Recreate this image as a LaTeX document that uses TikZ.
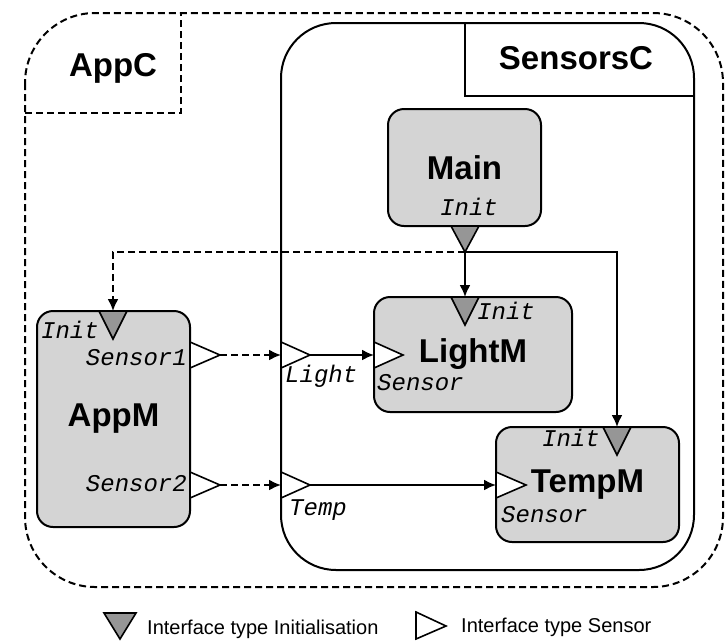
\documentclass[tikz,border=0pt]{standalone}
\usepackage{fontspec}
\setmainfont{Liberation Sans}
\newfontfamily\portfont{Liberation Mono}
\usetikzlibrary{arrows.meta}

\definecolor{modgray}{RGB}{212,212,212}
\definecolor{initgray}{RGB}{150,150,150}

\tikzset{
  module/.style={draw, fill=modgray, line width=2pt, rounded corners=16pt,
    inner sep=0pt, outer sep=0pt, font=\fontsize{33}{33}\selectfont\bfseries},
  config/.style={font=\fontsize{33}{33}\selectfont\bfseries},
  initport/.style={draw, fill=initgray, line width=1.6pt},
  sensorport/.style={draw, fill=white, line width=1.6pt},
  portlabel/.style={font=\fontsize{24}{24}\selectfont\portfont\itshape,
    inner sep=0pt, text height=1.5ex, text depth=.25ex},
  legendlabel/.style={anchor=west, inner sep=0pt, font=\fontsize{20}{20}\selectfont},
  wire/.style={line width=2pt},
  dashwire/.style={line width=2pt, dash pattern=on 7pt off 4pt},
}

\begin{document}
\begin{tikzpicture}[x=1pt, y=-1pt, >={Latex[length=12pt,width=11pt]}]
\useasboundingbox (0,0) rectangle (725,641);

% configurations
\draw[dashwire, rounded corners=70pt] (25,13) rectangle (723,587);
\draw[dashwire] (25,113) -| (181,13);
\node[config] (appc) at (113,68) {AppC};

\draw[wire, rounded corners=55pt] (281,23) rectangle (694,570);
\draw[wire] (465,23) |- (694,96);
\node[config] (sensorsc) at (576,58) {SensorsC};

% modules
\node[module, minimum width=153pt, minimum height=117pt] (main)   at (464.5,167.5) {Main};
\node[module, minimum width=153pt, minimum height=216pt] (appm)   at (113.5,419)   {AppM};
\node[module, minimum width=198pt, minimum height=115pt] (lightm) at (473,354.5)   {LightM};
\node[module, minimum width=183pt, minimum height=115pt] (tempm)  at (587.5,484.5) {TempM};

% interfaces
\draw[initport] (451,226) -- (479,226) -- (465,252) coordinate (mainI) -- cycle;
\draw[initport] (99,311) -- (127,311) -- (113,339) -- cycle;
\draw[initport] (451,297) -- (479,297) -- (465,325) -- cycle;
\draw[initport] (603,427) -- (631,427) -- (617,455) -- cycle;

\draw[sensorport] (190,342) -- (190,368) -- (220,355) coordinate (sensorI) -- cycle;
\draw[sensorport] (190,472) -- (190,498) -- (220,485) coordinate (sensorII) -- cycle;
\draw[sensorport] (281,342) -- (281,368) -- (310,355) coordinate (light) -- cycle;
\draw[sensorport] (281,472) -- (281,498) -- (310,485) coordinate (temp) -- cycle;
\draw[sensorport] (374,342) -- (374,368) -- (403,355) -- cycle;
\draw[sensorport] (496,472) -- (496,498) -- (526,485) -- cycle;

\coordinate (appmIn)   at (113,311);
\coordinate (lightmIn) at (465,297);
\coordinate (tempmIn)  at (617,427);
\coordinate (lightIn)  at (281,355);
\coordinate (tempIn)   at (281,485);
\coordinate (lightmS)  at (374,355);
\coordinate (tempmS)   at (496,485);

% wiring
\draw[dashwire,->] (mainI) -| (appmIn);
\draw[wire,->] (mainI) -- (lightmIn);
\draw[wire,->] (mainI) -| (tempmIn);
\draw[dashwire,->] (sensorI) -- (lightIn);
\draw[dashwire,->] (sensorII) -- (tempIn);
\draw[wire,->] (light) -- (lightmS);
\draw[wire,->] (temp) -- (tempmS);

% interface names
\node[portlabel] (mainlbl) at (469,212) {Init};
\node[portlabel, anchor=east] (appmlbl) at (99,335) {Init};
\node[portlabel, anchor=east] (sensorIlbl) at (187,362) {Sensor1};
\node[portlabel, anchor=east] (sensorIIlbl) at (187,488) {Sensor2};
\node[portlabel, anchor=west] (lightlbl) at (285,379) {Light};
\node[portlabel, anchor=west] (templbl) at (289,512) {Temp};
\node[portlabel, anchor=west] (lightmIlbl) at (477,316) {Init};
\node[portlabel, anchor=west] (lightmSlbl) at (377,387) {Sensor};
\node[portlabel, anchor=east] (tempmIlbl) at (600,443) {Init};
\node[portlabel, anchor=west] (tempmSlbl) at (501,519) {Sensor};

% legend
\draw[initport] (104,613) -- (136,613) -- (120,639) -- cycle;
\node[legendlabel] (initkey) at (147,629) {Interface type Initialisation};
\draw[sensorport] (416,612) -- (416,639) -- (446,626) -- cycle;
\node[legendlabel] (sensorkey) at (461,627) {Interface type Sensor};

\end{tikzpicture}
\end{document}
